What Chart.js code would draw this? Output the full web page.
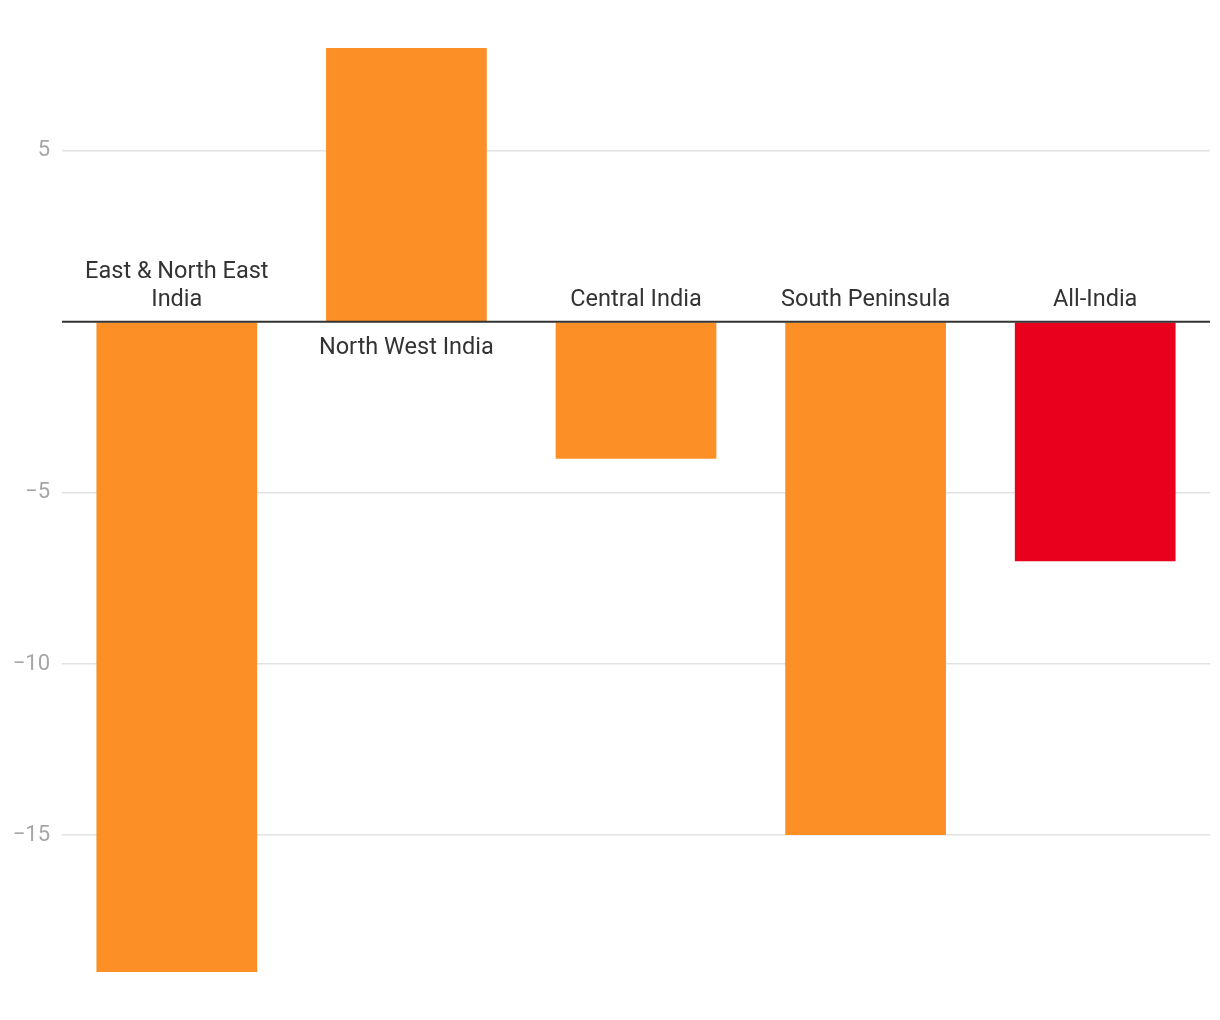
<!DOCTYPE html>
<html>
<head>
<meta charset="utf-8">
<script src="https://cdn.jsdelivr.net/npm/chart.js@4"></script>
<style>
  html, body { margin: 0; padding: 0; background: #fff; }
  #wrap { width: 1220px; height: 1020px; }
</style>
</head>
<body>
<div id="wrap"><canvas id="chart"></canvas></div>
<script>
const regions = [["East & North East", "India"], ["North West India"], ["Central India"], ["South Peninsula"], ["All-India"]];
const deviation = [-19, 8, -4, -15, -7];
const barColors = ["#fc8f25", "#fc8f25", "#fc8f25", "#fc8f25", "#e8001c"];
const yTicks = [5, 0, -5, -10, -15];

// region names sit on the zero line: above negative bars, below positive ones
const labelPlugin = {
    id: "regionLabels",
    afterDatasetsDraw(chart) {
        const ctx = chart.ctx;
        const area = chart.chartArea;
        const zeroY = chart.scales.y.getPixelForValue(0);

        ctx.save();
        ctx.strokeStyle = "#333";
        ctx.lineWidth = 2;
        ctx.beginPath();
        ctx.moveTo(area.left, zeroY);
        ctx.lineTo(area.right, zeroY);
        ctx.stroke();

        ctx.font = "23.5px Roboto";
        ctx.fillStyle = "#333";
        ctx.textAlign = "center";
        ctx.textBaseline = "middle";
        const lineH = 28;
        chart.getDatasetMeta(0).data.forEach(function (bar, i) {
            const lines = regions[i];
            if (deviation[i] < 0) {
                lines.forEach(function (line, j) {
                    const y = zeroY - 22 - (lines.length - 1 - j) * lineH;
                    ctx.fillText(line, bar.x, y);
                });
            } else {
                lines.forEach(function (line, j) {
                    ctx.fillText(line, bar.x, zeroY + 26 + j * lineH);
                });
            }
        });
        ctx.restore();
    }
};

new Chart(document.getElementById("chart"), {
    type: "bar",
    data: {
        labels: regions.map(r => r.join(" ")),
        datasets: [{
            data: deviation,
            backgroundColor: barColors,
            borderWidth: 0,
            barPercentage: 0.7,
            categoryPercentage: 1
        }]
    },
    options: {
        responsive: true,
        maintainAspectRatio: false,
        animation: false,
        layout: { padding: { top: 48, bottom: 48, right: 10, left: 0 } },
        plugins: {
            legend: { display: false },
            tooltip: { enabled: false }
        },
        scales: {
            x: {
                display: false,
                grid: { display: false }
            },
            y: {
                min: -19,
                max: 8,
                border: { display: false },
                afterBuildTicks: function (axis) {
                    axis.ticks = yTicks.map(v => ({ value: v }));
                },
                afterFit: function (axis) {
                    axis.width = 62;
                },
                grid: {
                    color: function (c) { return c.tick && c.tick.value === 0 ? "rgba(0,0,0,0)" : "#e2e2e2"; },
                    lineWidth: 1.5,
                    drawTicks: false
                },
                ticks: {
                    padding: 12,
                    color: "#a6a6a6",
                    font: { family: "Roboto", size: 22 },
                    callback: function (v) {
                        if (v === 0) return "";
                        return v < 0 ? "\u2212" + Math.abs(v) : String(v);
                    }
                }
            }
        }
    },
    plugins: [labelPlugin]
});
</script>
</body>
</html>
